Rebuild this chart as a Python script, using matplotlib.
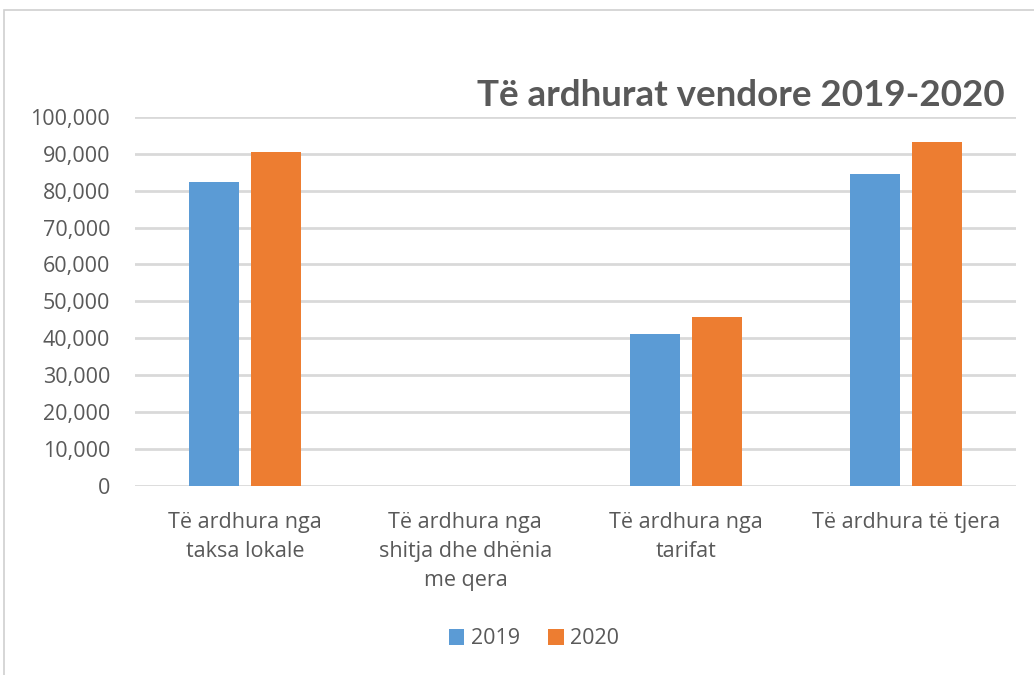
import matplotlib
matplotlib.use('Agg')
import matplotlib.pyplot as plt
import numpy as np
from matplotlib.patches import Rectangle

# chart values
categories = [
    'Të ardhura nga\ntaksa lokale',
    'Të ardhura nga\nshitja dhe dhënia\nme qera',
    'Të ardhura nga\ntarifat',
    'Të ardhura të tjera',
]
series_names = ['2019', '2020']
vals_2019 = [82400, 0, 41100, 84500]
vals_2020 = [90500, 0, 45700, 93300]
yticks = list(range(0, 100001, 10000))

BLUE = '#5B9BD5'
ORANGE = '#ED7D31'
GRID = '#D9D9D9'
TEXT = '#595959'
FS = 15.5

plt.rcParams['font.family'] = ['Open Sans', 'DejaVu Sans']

fig = plt.figure(figsize=(10.34, 6.75), dpi=100)

# outer chart frame (cropped on the right and bottom)
fig.patches.append(Rectangle((4 / 1034, -0.05), 1.1, 1 - 10 / 675 + 0.05,
                             transform=fig.transFigure, fill=False,
                             edgecolor='#D0D0D0', linewidth=1.2))

ax = fig.add_axes([135 / 1034, 1 - 485.7 / 675, (1016 - 135) / 1034, (485.7 - 117) / 675])

x = np.arange(len(categories))
w = 0.227
ax.bar(x - 0.141, vals_2019, w, color=BLUE, label=series_names[0], linewidth=0, zorder=3)
ax.bar(x + 0.141, vals_2020, w, color=ORANGE, label=series_names[1], linewidth=0, zorder=3)

ax.set_xlim(-0.5, len(categories) - 0.5)
ax.set_ylim(0, 100000)
ax.set_yticks(yticks)
ax.set_yticklabels([f'{v:,}' for v in yticks])
ax.yaxis.grid(True, color=GRID, linewidth=2, zorder=0)
ax.set_axisbelow(True)
for s in ax.spines.values():
    s.set_visible(False)
ax.tick_params(axis='both', length=0, labelsize=FS, colors=TEXT)
ax.tick_params(axis='y', pad=18)
ax.tick_params(axis='x', pad=19)
ax.set_xticks(x)
ax.set_xticklabels(categories, linespacing=1.5)

fig.text(1005 / 1034, 1 - 96 / 675, 'Të ardhurat vendore 2019-2020',
         ha='right', va='center', fontsize=26.5, fontweight='bold', color=TEXT,
         family=['Lato', 'DejaVu Sans'])

fig.legend(loc='center', bbox_to_anchor=(534 / 1034, 1 - 639 / 675), ncol=2,
           frameon=False, fontsize=FS, labelcolor=TEXT, handlelength=0.72,
           handleheight=0.72, handletextpad=0.3, columnspacing=1.3)

fig.savefig('out.png', dpi=100)
